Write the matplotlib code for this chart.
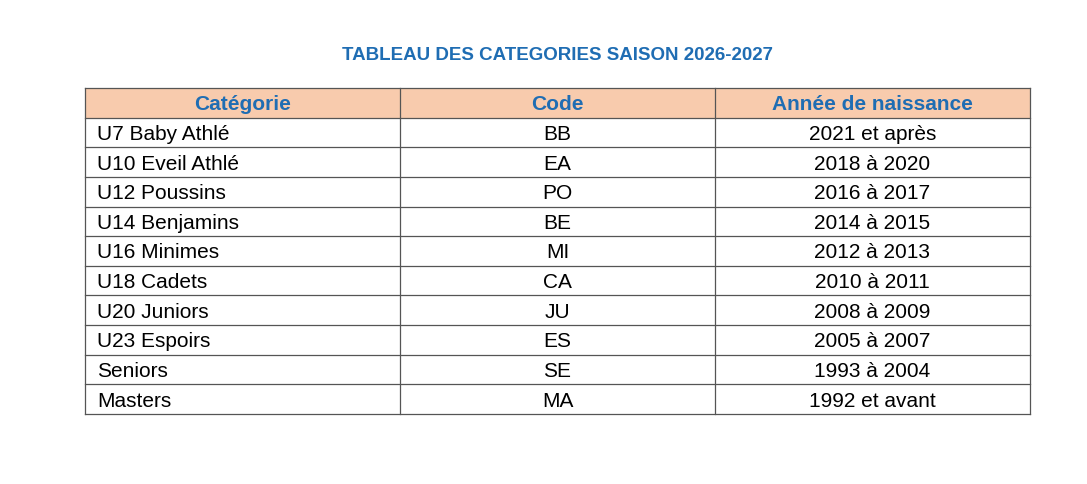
import matplotlib
matplotlib.use("Agg")
import matplotlib.pyplot as plt
from matplotlib.patches import Rectangle

title = "TABLEAU DES CATEGORIES SAISON 2026-2027"
headers = ["Catégorie", "Code", "Année de naissance"]
categories = ["U7 Baby Athlé", "U10 Eveil Athlé", "U12 Poussins", "U14 Benjamins",
              "U16 Minimes", "U18 Cadets", "U20 Juniors", "U23 Espoirs", "Seniors", "Masters"]
codes = ["BB", "EA", "PO", "BE", "MI", "CA", "JU", "ES", "SE", "MA"]
years = ["2021 et après", "2018 à 2020", "2016 à 2017", "2014 à 2015", "2012 à 2013",
         "2010 à 2011", "2008 à 2009", "2005 à 2007", "1993 à 2004", "1992 et avant"]

plt.rcParams['font.family'] = ['Liberation Sans', 'DejaVu Sans']
W, H = 1087, 485
fig = plt.figure(figsize=(W/100, H/100), dpi=100)
ax = fig.add_axes([0, 0, 1, 1])
ax.set_xlim(0, W); ax.set_ylim(H, 0); ax.axis('off')

blue = '#1F6DB3'
x0, x1 = 85, 1030
cols = [85, 400, 715, 1030]
top, bot = 89, 415
nrows = len(categories) + 1
rh = (bot - top) / nrows

ax.text(558, 55, title, ha='center', va='center', fontsize=13.5, fontweight='bold', color=blue)
ax.add_patch(Rectangle((x0, top), x1 - x0, rh, facecolor='#F8CBAD', edgecolor='none'))
for i, h in enumerate(headers):
    ax.text((cols[i] + cols[i+1]) / 2, top + rh/2 + 1, h, ha='center', va='center',
            fontsize=15, fontweight='bold', color=blue)
for r, (c, k, y) in enumerate(zip(categories, codes, years)):
    yc = top + rh * (r + 1.5) + 1
    ax.text(cols[0] + 12, yc, c, ha='left', va='center', fontsize=15, color='black')
    ax.text((cols[1] + cols[2]) / 2, yc, k, ha='center', va='center', fontsize=15, color='black')
    ax.text((cols[2] + cols[3]) / 2, yc, y, ha='center', va='center', fontsize=15, color='black')
for r in range(nrows + 1):
    yy = top + rh * r
    ax.plot([x0, x1], [yy, yy], color='#555555', lw=0.9)
for xx in cols:
    ax.plot([xx, xx], [top, bot], color='#555555', lw=0.9)

fig.savefig('out.png', dpi=100, facecolor='white')
